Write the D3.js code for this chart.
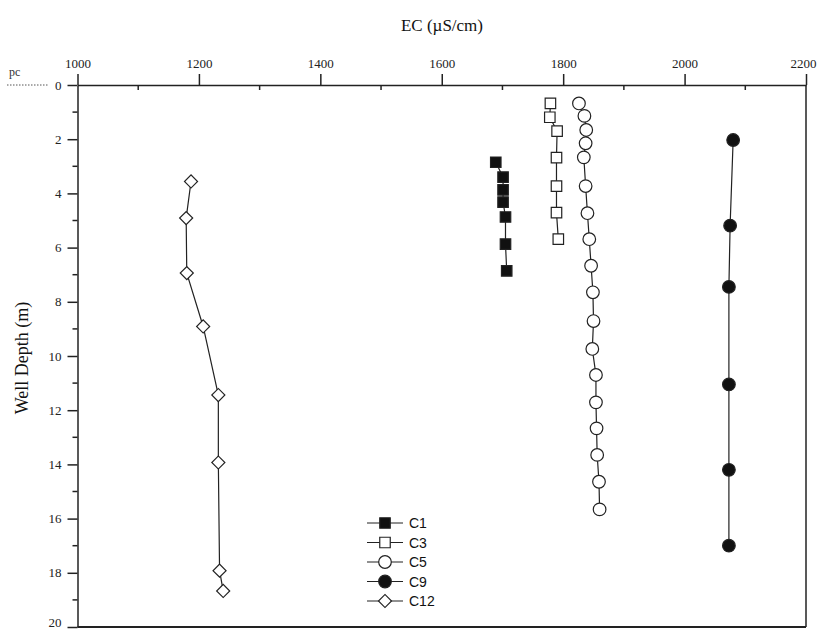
<!DOCTYPE html>
<html><head><meta charset="utf-8">
<script src="https://cdn.jsdelivr.net/npm/d3@7"></script>
<style>body{margin:0;background:#fff}svg{display:block}</style>
</head><body>
<svg id="chart" width="817" height="631"></svg>
<script>
// ---- data ----
const xTicks = [1000, 1200, 1400, 1600, 1800, 2000, 2200];
const yTicks = [0, 2, 4, 6, 8, 10, 12, 14, 16, 18, 20];
const seriesNames = ["C1", "C3", "C5", "C9", "C12"];
const c1EC = [1689, 1701, 1701, 1701, 1705, 1705, 1707];
const c1Depth = [2.85, 3.40, 3.87, 4.32, 4.87, 5.87, 6.86];
const c3EC = [1779, 1778, 1790, 1789, 1789, 1789, 1792];
const c3Depth = [0.68, 1.19, 1.70, 2.68, 3.73, 4.71, 5.69];
const c5EC = [1826, 1835, 1838, 1837, 1834, 1837, 1840, 1843, 1846, 1849, 1850, 1848, 1854, 1854, 1855, 1856, 1859, 1860];
const c5Depth = [0.68, 1.14, 1.66, 2.15, 2.67, 3.73, 4.73, 5.69, 6.67, 7.65, 8.71, 9.74, 10.70, 11.71, 12.67, 13.65, 14.64, 15.66];
const c9EC = [2080, 2075, 2073, 2073, 2073, 2073];
const c9Depth = [2.03, 5.19, 7.45, 11.05, 14.2, 17.0];
const c12EC = [1187, 1179, 1180, 1207, 1232, 1232, 1234, 1240];
const c12Depth = [3.56, 4.91, 6.94, 8.91, 11.44, 13.93, 17.92, 18.67];

const series = [
  {name: seriesNames[0], ec: c1EC, d: c1Depth, shape: "square", fill: "#111"},
  {name: seriesNames[1], ec: c3EC, d: c3Depth, shape: "square", fill: "#fff"},
  {name: seriesNames[2], ec: c5EC, d: c5Depth, shape: "circle", fill: "#fff"},
  {name: seriesNames[3], ec: c9EC, d: c9Depth, shape: "circle", fill: "#111"},
  {name: seriesNames[4], ec: c12EC, d: c12Depth, shape: "diamond", fill: "#fff"}
];

const svg = d3.select("#chart");
const L = 77.5, R = 806, T = 85, B = 627;
const x = d3.scaleLinear().domain([1000, 2200]).range([L, R]);
const y = d3.scaleLinear().domain([0, 20]).range([T, B]);
const ink = "#222";
const serif = "'Liberation Serif', 'DejaVu Serif', serif";

// frame lines right & bottom
svg.append("line").attr("x1", R).attr("x2", R).attr("y1", T).attr("y2", B).attr("stroke", ink).attr("stroke-width", 1.5);
svg.append("line").attr("x1", L).attr("x2", R).attr("y1", B).attr("y2", B).attr("stroke", ink).attr("stroke-width", 1.8);

// top axis
const gx = svg.append("g").attr("transform", `translate(0,${T})`)
  .call(d3.axisTop(x).tickValues(xTicks).tickSize(11).tickSizeOuter(0).tickPadding(6).tickFormat(d3.format("d")));
gx.select(".domain").attr("stroke", ink).attr("stroke-width", 1.5);
gx.selectAll(".tick line").attr("stroke", ink).attr("stroke-width", 1.5);
gx.selectAll(".tick text").attr("font-family", serif).attr("font-size", 13).attr("fill", "#222");
// keep the last label inside the picture
gx.selectAll(".tick text").filter(d => d === 2200).attr("text-anchor", "end").attr("dx", 10);
// minor x ticks (inward)
const xMinor = xTicks.slice(0, -1).map(v => v + 100);
svg.append("g").selectAll("line").data(xMinor).join("line")
  .attr("x1", d => x(d)).attr("x2", d => x(d)).attr("y1", T).attr("y2", T + 5)
  .attr("stroke", ink).attr("stroke-width", 1.5);

// left axis
const gy = svg.append("g").attr("transform", `translate(${L},0)`)
  .call(d3.axisLeft(y).tickValues(yTicks).tickSize(10).tickSizeOuter(0).tickPadding(6).tickFormat(d3.format("d")));
gy.select(".domain").attr("stroke", ink).attr("stroke-width", 1.5);
gy.selectAll(".tick line").attr("stroke", ink).attr("stroke-width", 1.5);
gy.selectAll(".tick text").attr("font-family", serif).attr("font-size", 13).attr("fill", "#222");
gy.selectAll(".tick text").filter(d => d === 20).attr("dy", "-0.05em");
const yMinor = yTicks.slice(0, -1).map(v => v + 1);
svg.append("g").selectAll("line").data(yMinor).join("line")
  .attr("x1", L - 5).attr("x2", L).attr("y1", d => y(d)).attr("y2", d => y(d))
  .attr("stroke", ink).attr("stroke-width", 1.5);

// pc marker
svg.append("text").attr("x", 9).attr("y", 76).attr("font-family", serif).attr("font-size", 12).attr("fill", "#333").text("pc");
svg.append("line").attr("x1", 7).attr("x2", 48).attr("y1", y(0)).attr("y2", y(0))
  .attr("stroke", "#555").attr("stroke-width", 1).attr("stroke-dasharray", "1.5,1.5");

// titles
svg.append("text").attr("x", 442).attr("y", 31).attr("text-anchor", "middle")
  .attr("font-family", serif).attr("font-size", 17).attr("fill", "#111").text("EC (\u00B5S/cm)");
svg.append("text").attr("transform", "translate(28,358) rotate(-90)").attr("text-anchor", "middle")
  .attr("font-family", serif).attr("font-size", 18).attr("fill", "#111").text("Well Depth (m)");

// symbols
const sym = {
  square: d3.symbol().type(d3.symbolSquare).size(110),
  circle: d3.symbol().type(d3.symbolCircle).size(125),
  diamond: d3.symbol().type(d3.symbolSquare).size(85)
};
function drawMarker(g, s, cx, cy) {
  const p = g.append("path").attr("d", sym[s.shape]()).attr("fill", s.fill)
    .attr("stroke", "#222").attr("stroke-width", 1.2);
  if (s.shape === "diamond") p.attr("transform", `translate(${cx},${cy}) rotate(45)`);
  else p.attr("transform", `translate(${cx},${cy})`);
}

const line = d3.line().x(p => x(p[0])).y(p => y(p[1]));
series.forEach(s => {
  const pts = s.ec.map((v, i) => [v, s.d[i]]);
  svg.append("path").attr("d", line(pts)).attr("fill", "none").attr("stroke", "#222").attr("stroke-width", 1.2);
  const g = svg.append("g");
  pts.forEach(p => drawMarker(g, s, x(p[0]), y(p[1])));
});

// legend
const lg = svg.append("g");
series.forEach((s, i) => {
  const ly = 523 + i * 19.5;
  lg.append("line").attr("x1", 367).attr("x2", 403).attr("y1", ly).attr("y2", ly).attr("stroke", "#222").attr("stroke-width", 1.2);
  drawMarker(lg, s, 385, ly);
  lg.append("text").attr("x", 409).attr("y", ly + 5).attr("font-family", "'Liberation Sans', Arial, sans-serif")
    .attr("font-size", 14).attr("fill", "#111").text(s.name);
});
</script>
</body></html>
